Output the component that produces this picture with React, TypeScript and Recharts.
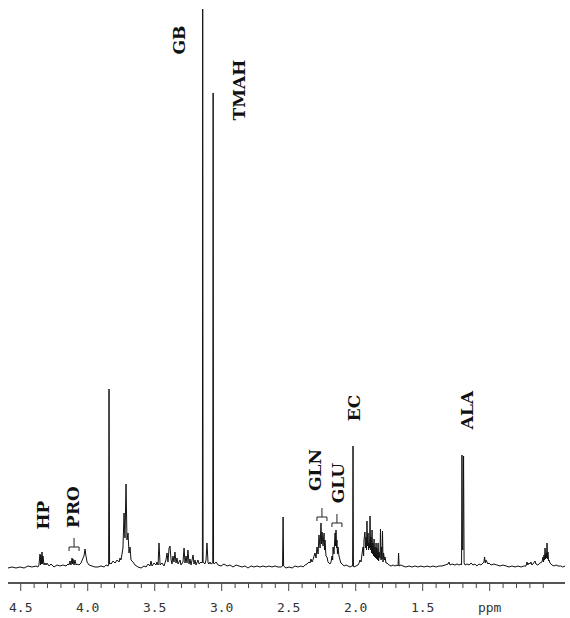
import React from "react";
import { LineChart, Line, XAxis, YAxis, ReferenceDot } from "recharts";

// ppm, intensity (baseline = 0)
const spectrum: [number, number][] = [
  [4.595, 0], [4.565, 1], [4.535, 0], [4.505, 1], [4.475, 0], [4.446, 2], [4.416, 1], [4.386, 2], [4.371, 1],
  [4.364, 3], [4.356, 14], [4.352, 3], [4.349, 13], [4.345, 4], [4.341, 16], [4.337, 4], [4.334, 12],
  [4.326, 3], [4.319, 5], [4.311, 3], [4.304, 5], [4.289, 2], [4.274, 4], [4.252, 1], [4.229, 3], [4.207, 2],
  [4.184, 3], [4.162, 2], [4.147, 4], [4.140, 3], [4.132, 7], [4.125, 3], [4.117, 10], [4.113, 4], [4.110, 9],
  [4.102, 3], [4.095, 8], [4.087, 3], [4.080, 4], [4.065, 3], [4.050, 5], [4.035, 10], [4.028, 12], [4.020, 19],
  [4.013, 12], [4.005, 6], [3.990, 3], [3.968, 2], [3.946, 1], [3.923, 1], [3.901, 2], [3.878, 1], [3.863, 3],
  [3.848, 2], [3.844, 3], [3.841, 179], [3.837, 4], [3.834, 5], [3.826, 4], [3.811, 7], [3.796, 5], [3.781, 8],
  [3.766, 6], [3.759, 10], [3.752, 8], [3.744, 14], [3.737, 20], [3.729, 55], [3.722, 30], [3.714, 84],
  [3.707, 28], [3.699, 35], [3.692, 15], [3.684, 21], [3.677, 8], [3.662, 6], [3.647, 3], [3.625, 1],
  [3.602, 0], [3.580, 2], [3.565, 1], [3.550, 4], [3.535, 2], [3.528, 7], [3.520, 2], [3.505, 5], [3.490, 3],
  [3.483, 6], [3.475, 3], [3.468, 25], [3.460, 3], [3.446, 5], [3.431, 2], [3.416, 8], [3.408, 15], [3.401, 6],
  [3.393, 20], [3.386, 22], [3.378, 8], [3.371, 4], [3.364, 12], [3.356, 6], [3.349, 16], [3.341, 5],
  [3.334, 10], [3.326, 4], [3.311, 8], [3.304, 3], [3.289, 6], [3.281, 20], [3.274, 5], [3.266, 12],
  [3.259, 5], [3.252, 18], [3.244, 4], [3.237, 9], [3.229, 3], [3.214, 13], [3.207, 4], [3.199, 8], [3.192, 3],
  [3.177, 8], [3.169, 4], [3.154, 6], [3.147, 5], [3.144, 6], [3.142, 559], [3.139, 6], [3.132, 5],
  [3.125, 4], [3.117, 8], [3.110, 25], [3.102, 5], [3.095, 4], [3.087, 6], [3.080, 4], [3.067, 5],
  [3.064, 475], [3.061, 5], [3.057, 4], [3.042, 6], [3.027, 3], [3.005, 2], [2.983, 4], [2.960, 2],
  [2.938, 3], [2.916, 1], [2.893, 3], [2.871, 2], [2.849, 1], [2.826, 2], [2.804, 0], [2.781, 2], [2.759, 1],
  [2.737, 2], [2.714, 1], [2.692, 2], [2.669, 1], [2.647, 2], [2.625, 1], [2.602, 2], [2.580, 1], [2.557, 1],
  [2.546, 2], [2.542, 51], [2.538, 2], [2.520, 0], [2.498, 1], [2.475, 0], [2.453, 2], [2.431, 1], [2.408, 2],
  [2.393, 1], [2.378, 3], [2.363, 4], [2.349, 6], [2.341, 5], [2.334, 9], [2.326, 6], [2.319, 8], [2.311, 12],
  [2.304, 15], [2.296, 10], [2.289, 21], [2.281, 14], [2.274, 33], [2.266, 20], [2.259, 45], [2.255, 24],
  [2.251, 36], [2.244, 22], [2.236, 35], [2.233, 18], [2.229, 28], [2.222, 12], [2.214, 11], [2.207, 6],
  [2.199, 5], [2.192, 4], [2.184, 6], [2.177, 12], [2.172, 8], [2.169, 21], [2.162, 14], [2.154, 35],
  [2.150, 22], [2.147, 38], [2.143, 20], [2.140, 28], [2.136, 14], [2.132, 21], [2.125, 12], [2.117, 8],
  [2.110, 5], [2.102, 4], [2.087, 2], [2.072, 3], [2.057, 2], [2.043, 1], [2.028, 2], [2.023, 2], [2.020, 122],
  [2.017, 2], [2.013, 1], [1.998, 2], [1.983, 3], [1.975, 5], [1.968, 8], [1.960, 6], [1.953, 14], [1.945, 21],
  [1.941, 12], [1.938, 28], [1.931, 36], [1.927, 20], [1.923, 31], [1.919, 18], [1.916, 47], [1.912, 22],
  [1.908, 35], [1.904, 18], [1.901, 25], [1.897, 20], [1.893, 52], [1.889, 18], [1.886, 31], [1.882, 15],
  [1.878, 38], [1.874, 14], [1.871, 25], [1.867, 12], [1.863, 29], [1.859, 11], [1.856, 21], [1.852, 10],
  [1.848, 25], [1.844, 9], [1.841, 20], [1.837, 8], [1.833, 25], [1.829, 7], [1.826, 16], [1.819, 10],
  [1.815, 39], [1.811, 8], [1.808, 21], [1.804, 9], [1.800, 37], [1.796, 6], [1.792, 15], [1.785, 8],
  [1.781, 11], [1.774, 5], [1.766, 5], [1.751, 3], [1.736, 2], [1.721, 3], [1.707, 2], [1.692, 3], [1.684, 2],
  [1.680, 15], [1.676, 2], [1.662, 3], [1.647, 2], [1.625, 1], [1.602, 2], [1.580, 1], [1.557, 2], [1.535, 1],
  [1.513, 2], [1.490, 1], [1.468, 2], [1.445, 1], [1.423, 2], [1.400, 1], [1.378, 2], [1.356, 2], [1.333, 3],
  [1.311, 4], [1.304, 6], [1.296, 3], [1.281, 4], [1.259, 3], [1.244, 4], [1.229, 3], [1.214, 4], [1.210, 3],
  [1.207, 113], [1.204, 20], [1.200, 18], [1.195, 112], [1.191, 5], [1.184, 3], [1.169, 4], [1.154, 3],
  [1.139, 5], [1.125, 3], [1.110, 4], [1.095, 2], [1.080, 4], [1.065, 3], [1.050, 5], [1.043, 6], [1.038, 11],
  [1.033, 5], [1.028, 8], [1.020, 6], [1.013, 4], [1.005, 5], [0.990, 3], [0.968, 4], [0.946, 3], [0.923, 2],
  [0.901, 3], [0.878, 2], [0.856, 1], [0.834, 2], [0.811, 1], [0.789, 2], [0.766, 1], [0.744, 2], [0.729, 2],
  [0.722, 6], [0.715, 3], [0.707, 5], [0.700, 4], [0.692, 6], [0.685, 3], [0.677, 4], [0.662, 7], [0.655, 4],
  [0.640, 3], [0.625, 5], [0.610, 6], [0.602, 11], [0.598, 6], [0.595, 13], [0.591, 8], [0.587, 20],
  [0.583, 9], [0.580, 15], [0.576, 10], [0.572, 25], [0.568, 9], [0.565, 16], [0.561, 7], [0.557, 8],
  [0.550, 5], [0.543, 4], [0.535, 3], [0.520, 2], [0.505, 3], [0.490, 2], [0.470, 2], [0.455, 1], [0.438, 2],
];

const data = spectrum.map(([ppm, v]) => ({ ppm, v }));

// compound labels
const labelNames = ["HP", "PRO", "GB", "TMAH", "GLN", "GLU", "EC", "ALA"];
const labelShifts = [4.334, 4.11, 3.319, 2.871, 2.304, 2.132, 2.01, 1.17];
const labelHeights = [53, 61, 528, 478, 98, 85, 160, 158];

// bracket markers under PRO, GLN, GLU
const bracketShifts = [4.102, 2.252, 2.14];
const bracketHeights = [21, 51, 45];

const ticks = [4.5, 4.4, 4.3, 4.2, 4.1, 4.0, 3.9, 3.8, 3.7, 3.6, 3.5, 3.4, 3.3, 3.2, 3.1, 3.0, 2.9, 2.8, 2.7,
  2.6, 2.5, 2.4, 2.3, 2.2, 2.1, 2.0, 1.9, 1.8, 1.7, 1.6, 1.5, 1.4, 1.3, 1.2, 1.1, 1.0, 0.9, 0.8, 0.7, 0.6];

if (typeof document !== "undefined") document.body.style.margin = "0";

function PpmTick(props: any) {
  const { x, y, payload } = props;
  const val = payload.value as number;
  const major = Math.abs(val * 2 - Math.round(val * 2)) < 1e-6;
  const label = Math.abs(val - 1) < 1e-6 ? "ppm" : val.toFixed(1);
  return (
    <g>
      <line x1={x} x2={x} y1={y} y2={y + (major ? 8 : 5)} stroke="#444" strokeWidth={1} />
      {major && val > 0.9 && (
        <text x={x} y={y + 29} textAnchor="middle" fontFamily="DejaVu Sans Mono" fontSize={13} fill="#333">
          {label}
        </text>
      )}
    </g>
  );
}

export default function App() {
  return (
    <LineChart width={570} height={618} data={data} margin={{ top: 8, right: 5, left: 8, bottom: 5 }}>
      <XAxis
        dataKey="ppm"
        type="number"
        domain={[0.438, 4.595]}
        reversed
        allowDataOverflow
        ticks={ticks}
        interval={0}
        tick={<PpmTick />}
        tickLine={false}
        tickSize={0}
        tickMargin={0}
        height={30}
        axisLine={{ stroke: "#555", strokeWidth: 2 }}
      />
      <YAxis hide type="number" domain={[-15, 560]} allowDataOverflow />
      <Line
        type="linear"
        dataKey="v"
        stroke="#111"
        strokeWidth={1}
        dot={false}
        isAnimationActive={false}
      />
      {labelNames.map((name, i) => (
        <ReferenceDot
          key={name}
          x={labelShifts[i]}
          y={labelHeights[i]}
          ifOverflow="visible"
          shape={(p: any) => (
            <text
              x={p.cx}
              y={p.cy}
              transform={`rotate(-90 ${p.cx} ${p.cy})`}
              textAnchor="middle"
              dominantBaseline="central"
              fontFamily="DejaVu Serif"
              fontWeight="bold"
              fontSize={17}
              fill="#111"
            >
              {name}
            </text>
          )}
        />
      ))}
      {bracketShifts.map((s, i) => (
        <ReferenceDot
          key={"b" + i}
          x={s}
          y={bracketHeights[i]}
          ifOverflow="visible"
          shape={(p: any) => (
            <path
              d={`M${p.cx},${p.cy - 9} V${p.cy} M${p.cx - 5},${p.cy + 4} V${p.cy} H${p.cx + 5} V${p.cy + 4}`}
              stroke="#222"
              strokeWidth={1}
              fill="none"
            />
          )}
        />
      ))}
    </LineChart>
  );
}
